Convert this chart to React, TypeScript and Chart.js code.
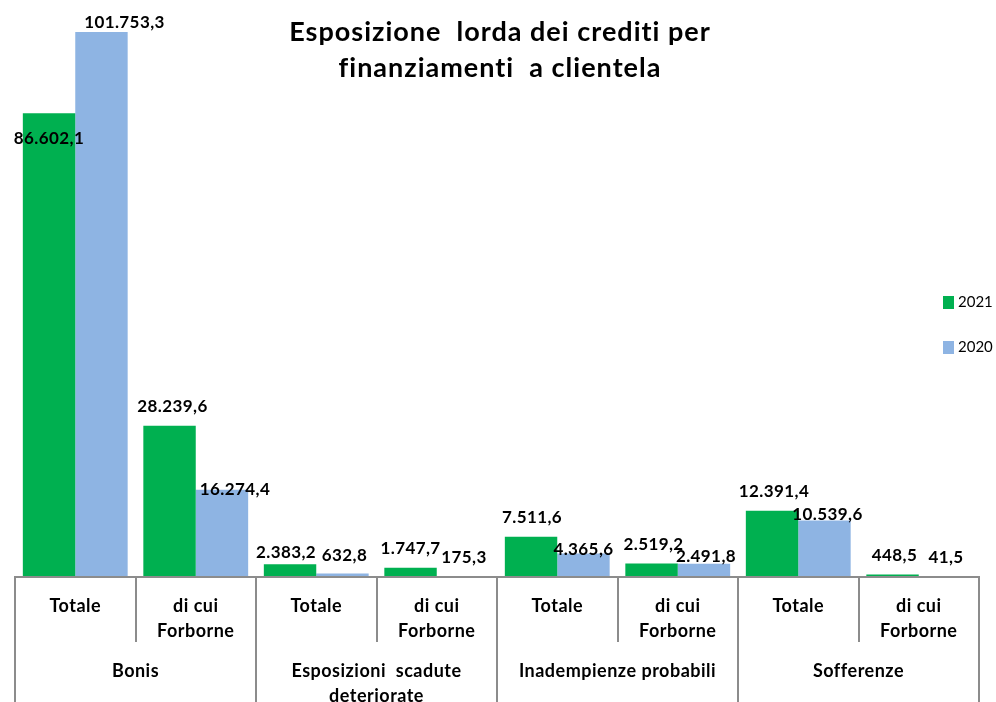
import React, { useEffect, useRef } from "react";
import { Chart, registerables } from "chart.js";

Chart.register(...registerables);

const categories = ["Totale", "di cui Forborne", "Totale", "di cui Forborne", "Totale", "di cui Forborne", "Totale", "di cui Forborne"];
const categoryLines = [["Totale"], ["di cui", "Forborne"], ["Totale"], ["di cui", "Forborne"], ["Totale"], ["di cui", "Forborne"], ["Totale"], ["di cui", "Forborne"]];
const groupLines = [["Bonis"], ["Esposizioni  scadute", "deteriorate"], ["Inadempienze probabili"], ["Sofferenze"]];
const seriesNames = ["2021", "2020"];
const values2021 = [86602.1, 28239.6, 2383.2, 1747.7, 7511.6, 2519.2, 12391.4, 448.5];
const values2020 = [101753.3, 16274.4, 632.8, 175.3, 4365.6, 2491.8, 10539.6, 41.5];
const titleLines = ["Esposizione  lorda dei crediti per", "finanziamenti  a clientela"];

const colors = ["#00B050", "#8EB4E3"];
// label nudges (px) relative to the default "above bar" placement, mimicking the original
const labelNudge = [
  [[0, 44], [3, 0], [-4, 7], [0, 0], [1, 0], [2, 0], [2, 0], [2, 0]],
  [[23, 10], [13, 19], [2, 1], [1, 0], [0, 15], [2, 12], [3, 13], [1, 0]],
];

const FONT = "Lato, 'Open Sans', sans-serif";

function fmt(v: number): string {
  const s = v.toFixed(1);
  const [intPart, dec] = s.split(".");
  const grouped = intPart.replace(/\B(?=(\d{3})+(?!\d))/g, ".");
  return grouped + "," + dec;
}

function setSpacing(ctx: any, px: number) {
  if ("letterSpacing" in ctx) ctx.letterSpacing = px + "px";
}

const overlayPlugin = {
  id: "overlay",
  afterDatasetsDraw(chart: any) {
    const ctx: CanvasRenderingContext2D = chart.ctx;
    const area = chart.chartArea;
    const n = categories.length;
    const step = (area.right - area.left) / n;
    ctx.save();

    // axis line and separators
    ctx.strokeStyle = "#8C8C8C";
    ctx.lineWidth = 2;
    ctx.beginPath();
    ctx.moveTo(area.left - 1, area.bottom);
    ctx.lineTo(area.right + 1, area.bottom);
    for (let i = 0; i <= n; i++) {
      const x = Math.round(area.left + i * step);
      ctx.moveTo(x, area.bottom);
      ctx.lineTo(x, i % 2 === 0 ? chart.height : area.bottom + 65);
    }
    ctx.stroke();

    // category labels
    ctx.fillStyle = "#000";
    ctx.textAlign = "center";
    ctx.textBaseline = "middle";
    ctx.font = `bold 18px ${FONT}`;
    setSpacing(ctx, 0.5);
    categoryLines.forEach((lines, i) => {
      const cx = area.left + (i + 0.5) * step;
      lines.forEach((t, j) => ctx.fillText(t, cx, area.bottom + 29 + j * 25));
    });
    groupLines.forEach((lines, g) => {
      const cx = area.left + (2 * g + 1) * step;
      lines.forEach((t, j) => ctx.fillText(t, cx, area.bottom + 94 + j * 25));
    });

    // data labels
    ctx.font = `bold 17px ${FONT}`;
    setSpacing(ctx, 0.4);
    chart.data.datasets.forEach((ds: any, di: number) => {
      const meta = chart.getDatasetMeta(di);
      meta.data.forEach((bar: any, i: number) => {
        const [dx, dy] = labelNudge[di][i];
        ctx.fillText(fmt(ds.data[i]), bar.x + dx, bar.y - 19 + dy);
      });
    });

    // title
    ctx.font = `bold 27px ${FONT}`;
    setSpacing(ctx, 1);
    ctx.textBaseline = "alphabetic";
    titleLines.forEach((t, j) => ctx.fillText(t, 500, 41 + j * 36));

    // legend
    ctx.font = `15px ${FONT}`;
    setSpacing(ctx, 0);
    ctx.textAlign = "left";
    ctx.textBaseline = "middle";
    seriesNames.forEach((name, k) => {
      const y = 302 + k * 45;
      ctx.fillStyle = colors[k];
      ctx.fillRect(943, y - 6, 11, 13);
      ctx.fillStyle = "#000";
      ctx.fillText(name, 958, y);
    });

    ctx.restore();
  },
};

export default function App() {
  const ref = useRef<HTMLCanvasElement | null>(null);
  useEffect(() => {
    if (!ref.current) return;
    const maxVal = Math.max(...values2021, ...values2020);
    const chart = new Chart(ref.current, {
      type: "bar",
      data: {
        labels: categories,
        datasets: [
          { label: seriesNames[0], data: values2021, backgroundColor: colors[0], borderWidth: 0, categoryPercentage: 0.87, barPercentage: 1 },
          { label: seriesNames[1], data: values2020, backgroundColor: colors[1], borderWidth: 0, categoryPercentage: 0.87, barPercentage: 1 },
        ],
      },
      options: {
        responsive: false,
        animation: false,
        devicePixelRatio: 1,
        layout: { padding: { left: 15, right: 17, top: 32, bottom: 125 } },
        scales: {
          x: { display: false },
          y: { display: false, min: 0, max: maxVal },
        },
        plugins: { legend: { display: false }, title: { display: false }, tooltip: { enabled: false } },
      },
      plugins: [overlayPlugin],
    });
    return () => chart.destroy();
  }, []);
  return (
    <div style={{ position: "absolute", left: 0, top: 0, width: 996, height: 702, background: "#fff" }}>
      <canvas ref={ref} width={996} height={702} style={{ display: "block" }} />
    </div>
  );
}
